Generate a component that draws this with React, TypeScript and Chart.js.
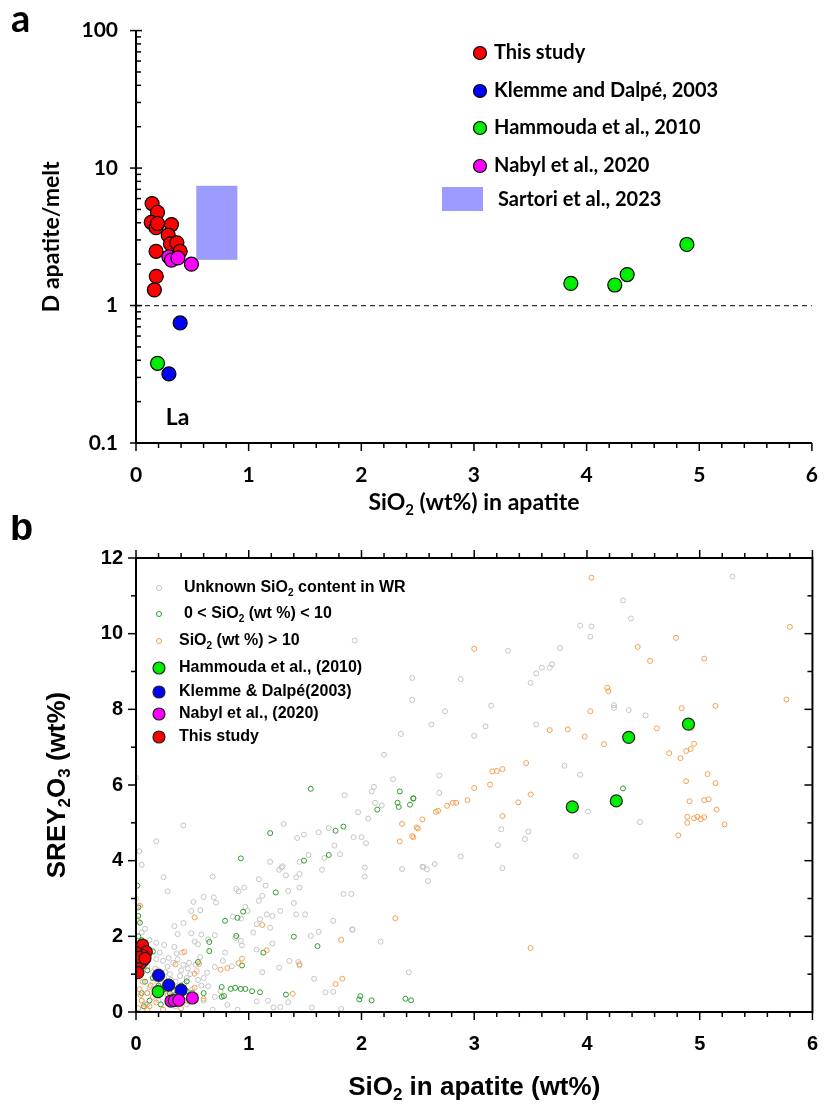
import React, { useEffect, useRef } from 'react';
import { Chart, registerables } from 'chart.js';
Chart.register(...registerables);

// ---------- Panel a ----------
const A_X_TICKS = [0, 1, 2, 3, 4, 5, 6];
const A_Y_TICKS = [0.1, 1, 10, 100];
const A_THIS_STUDY_X = [0.143, 0.191, 0.135, 0.178, 0.191, 0.315, 0.286, 0.306, 0.363, 0.392, 0.178, 0.18, 0.163];
const A_THIS_STUDY_Y = [5.52, 4.77, 4.03, 3.68, 3.95, 3.88, 3.25, 2.81, 2.86, 2.48, 2.48, 1.63, 1.3];
const A_KLEMME_X = [0.392, 0.292];
const A_KLEMME_Y = [0.747, 0.318];
const A_HAMMOUDA_X = [0.191, 3.86, 4.25, 4.36, 4.89];
const A_HAMMOUDA_Y = [0.38, 1.45, 1.41, 1.68, 2.78];
const A_NABYL_X = [0.292, 0.315, 0.372, 0.492];
const A_NABYL_Y = [2.26, 2.14, 2.22, 2.0];
const A_SARTORI_X = [0.535, 0.9];
const A_SARTORI_Y = [2.15, 7.43];
const A_UNITY_X = [0, 6];
const A_UNITY_Y = [1, 1];
const A_LEGEND = ['This study', 'Klemme and Dalpé, 2003', 'Hammouda et al., 2010', 'Nabyl et al., 2020', 'Sartori et al., 2023'];

// ---------- Panel b ----------
const B_X_TICKS = [0, 1, 2, 3, 4, 5, 6];
const B_Y_TICKS = [0, 2, 4, 6, 8, 10, 12];
const B_UNKNOWN_WR = [
  [5.29, 11.51], [4.32, 10.88], [4.39, 10.4], [3.94, 10.21], [4.04, 10.19], [4.03, 9.92], [3.76, 9.62], [3.69, 9.19], [3.67, 9.1], [4.24, 8.11], [4.24, 8.04], [4.37, 7.98], [4.52, 7.84], [3.8, 6.51], [3.94, 6.27], [4.01, 5.3], [4.47, 5.02],
  [2.69, 6.25], [2.69, 5.79], [3.24, 4.83], [3.21, 4.41], [3.48, 4.77], [3.45, 4.57], [2.88, 4.11], [3.9, 4.12], [2.55, 3.83], [2.58, 3.77], [2.65, 3.91], [2.59, 3.46], [3.25, 3.8],
  [1.94, 9.82], [2.45, 8.83], [2.45, 8.25],
  [2.62, 7.6], [2.74, 7.95], [2.88, 8.8], [3.0, 7.3], [3.15, 8.1], [3.3, 9.55], [3.5, 8.7], [3.55, 8.95], [3.6, 9.1], [2.35, 7.35], [2.2, 6.8], [3.55, 7.6], [3.1, 7.55], [0.0, 6.2],
  [0.42, 4.93], [0.18, 4.51], [0.03, 4.25], [0.05, 3.89], [0.245, 3.56], [0.28, 3.19], [0.68, 3.58], [0.6, 3.04], [0.69, 3.03], [0.71, 2.89], [0.51, 2.91], [0.57, 2.69], [0.49, 2.67], [0.34, 2.27], [0.42, 2.35], [0.37, 2.06], [0.49, 2.08], [0.58, 2.05], [0.7, 2.03], [0.64, 1.92], [0.52, 1.86], [0.55, 1.79], [0.34, 1.72], [0.41, 1.57], [0.25, 1.77], [0.18, 1.83], [0.21, 1.57], [0.29, 1.43], [0.24, 1.35], [0.37, 1.39], [0.47, 1.3], [0.54, 1.08], [0.63, 1.04], [0.7, 1.19], [0.79, 1.57], [0.77, 1.35], [0.85, 1.21], [0.64, 0.68], [0.75, 0.55], [0.81, 0.19], [0.9, 0.06], [0.68, 0.06], [1.07, 0.28], [1.17, 0.3], [1.22, 0.12], [1.28, 0.13], [1.35, 0.26], [1.56, 0.12], [1.82, 0.08], [1.68, 0.52], [1.75, 0.53], [1.58, 0.88], [1.12, 1.05], [1.07, 1.65], [1.21, 1.81], [1.27, 1.17], [1.36, 1.35], [1.44, 1.32], [1.45, 1.23], [1.55, 2.01], [1.62, 2.12], [1.92, 2.19], [2.17, 1.86], [2.42, 1.05], [2.54, 3.84],
  [0.89, 3.25], [0.91, 3.19], [0.96, 3.29], [0.97, 2.78], [0.99, 2.67], [0.93, 2.47], [0.86, 2.52], [0.88, 1.96], [0.93, 1.88], [0.94, 1.76], [1.04, 2.1], [1.1, 2.45], [1.09, 2.94], [1.12, 3.07], [1.16, 2.58], [1.19, 2.23], [1.09, 3.51], [1.15, 3.34], [1.27, 3.76], [1.29, 3.82], [1.3, 3.85], [1.33, 3.61], [1.35, 3.2], [1.42, 3.56], [1.45, 3.65], [1.45, 3.29], [1.42, 2.58], [1.5, 2.58], [1.28, 2.67], [1.21, 2.54], [1.07, 2.32],
  [1.19, 3.97], [1.45, 3.97], [1.53, 4.15], [1.43, 4.6], [1.49, 4.69], [1.31, 4.97], [1.62, 4.75], [1.71, 4.86], [1.85, 5.73], [1.97, 5.28], [2.06, 5.11], [1.93, 4.62], [2.0, 4.62], [2.04, 4.46], [1.76, 4.4], [1.67, 4.07], [1.81, 4.17], [1.65, 3.76], [2.03, 3.82], [2.03, 3.58], [1.84, 3.12], [1.91, 3.12], [2.11, 5.95], [2.09, 5.83], [2.12, 5.53], [2.18, 5.46], [2.36, 3.78], [2.28, 6.15], [1.75, 2.41], [1.92, 2.17], [1.4, 2.88],
  [0.05, 0.3], [0.1, 0.5], [0.15, 0.8], [0.2, 1.1], [0.25, 0.9], [0.3, 1.0], [0.35, 0.8], [0.4, 1.1], [0.45, 0.9], [0.5, 0.6], [0.1, 1.2], [0.05, 2.1], [0.02, 2.4], [0.08, 2.2], [0.12, 1.9], [0.18, 1.4], [0.28, 1.2], [0.33, 1.3], [0.42, 1.25], [0.48, 1.0], [0.55, 0.85], [0.58, 0.7], [0.6, 0.9], [0.0, 3.0], [0.02, 2.8], [0.05, 1.9], [0.1, 0.2], [0.2, 0.3], [0.35, 0.15], [0.45, 0.2], [0.6, 0.3], [0.7, 0.4],
  [0.15, 1.05], [0.22, 0.75], [0.27, 0.6], [0.32, 0.55], [0.38, 0.62], [0.43, 0.75], [0.12, 0.65], [0.08, 1.55], [0.17, 1.15], [0.26, 1.05], [0.31, 0.85], [0.39, 0.95], [0.46, 1.15], [0.53, 1.25], [0.57, 1.45], [0.36, 1.55],
];
const B_SIO2_0_10 = [
  [1.55, 5.9], [2.34, 5.83], [2.32, 5.53], [2.33, 5.42], [2.43, 5.48], [2.46, 5.65], [2.14, 5.35], [1.84, 4.9], [1.77, 4.79], [1.71, 4.15], [1.49, 4.0], [1.19, 4.73], [0.93, 4.06], [1.24, 3.16], [0.95, 2.65], [0.9, 2.49], [0.79, 2.41], [0.89, 2.01], [0.65, 1.85], [0.65, 1.61], [0.55, 1.32], [1.4, 1.99], [1.61, 1.74], [1.13, 1.57], [0.94, 1.23], [0.76, 0.66], [0.84, 0.61], [0.88, 0.64], [0.93, 0.61], [0.97, 0.61], [1.03, 0.55], [1.1, 0.52], [0.76, 0.4], [0.78, 0.42], [0.6, 0.5], [1.33, 0.46], [1.99, 0.42], [1.98, 0.33], [2.09, 0.31], [2.39, 0.35], [2.44, 0.31], [0.45, 0.81], [0.012, 3.34], [0.02, 2.76], [0.02, 2.54], [0.035, 2.36],
  [0.02, 2.0], [0.05, 1.9], [0.1, 1.1], [0.15, 0.9], [0.2, 0.7], [0.25, 0.6], [0.3, 0.5], [0.35, 0.45], [0.12, 0.3], [0.05, 0.5], [0.08, 0.8], [0.18, 0.45], [0.28, 0.8], [0.4, 0.7], [0.45, 0.55], [0.5, 0.5], [0.03, 1.3], [0.07, 0.15], [0.22, 0.2], [0.15, 1.6],
  [4.32, 5.91], [2.46, 5.64],
];
const B_SIO2_GT_10 = [
  [4.04, 11.48], [5.8, 10.18], [4.79, 9.89], [4.45, 9.65], [4.56, 9.28], [5.04, 9.34], [4.18, 8.57], [4.19, 8.48], [4.03, 7.95], [4.84, 8.03], [5.14, 8.09], [5.77, 8.26], [4.62, 7.5], [3.83, 7.47], [3.67, 7.45], [3.98, 7.28], [4.15, 7.08], [4.73, 6.84], [4.83, 6.71], [4.88, 6.9], [4.92, 6.95], [4.95, 7.09], [4.93, 7.51], [5.07, 6.29], [5.14, 6.05], [4.88, 6.1], [4.91, 5.57], [5.04, 5.6], [5.08, 5.62], [5.15, 5.35], [4.89, 5.16], [4.95, 5.12], [4.98, 5.16], [5.01, 5.1], [5.04, 5.15], [4.89, 5.0], [5.22, 4.96],
  [3.46, 6.58], [3.16, 6.36], [3.2, 6.37], [3.25, 6.42], [3.14, 6.01], [3.0, 5.92], [3.5, 5.75], [3.39, 5.54], [2.94, 5.6], [2.84, 5.53], [2.81, 5.53], [2.76, 5.45], [2.68, 5.32], [2.66, 5.29], [2.54, 5.09], [2.5, 4.85], [2.46, 4.62], [3.25, 5.18], [3.5, 1.69], [4.81, 4.67], [3.0, 9.6],
  [2.36, 4.97], [2.49, 4.88], [2.34, 4.51], [2.45, 4.65], [2.3, 2.48], [1.82, 1.91], [1.83, 0.88], [1.77, 0.74], [1.45, 1.26], [1.39, 0.48], [1.16, 1.63], [1.12, 2.3], [0.94, 1.41], [0.91, 1.29], [0.81, 1.16], [0.75, 1.12], [0.56, 1.27], [0.52, 1.01], [0.52, 2.5], [0.43, 1.59], [0.35, 1.26], [0.6, 0.35], [0.52, 0.64], [0.24, 0.06], [0.035, 2.81], [0.006, 2.45],
  [0.02, 0.1], [0.05, 0.3], [0.08, 0.2], [0.1, 0.5], [0.03, 0.6], [0.12, 0.15], [0.15, 0.4], [0.06, 0.8], [0.02, 1.0], [0.1, 0.05], [0.18, 0.25], [0.22, 0.5], [0.04, 0.45], [0.07, 1.2], [0.13, 0.7], [0.3, 0.2], [0.4, 0.1], [0.28, 0.45], [0.45, 0.3],
];
const B_HAMMOUDA = [[0.196, 0.54], [3.87, 5.42], [4.26, 5.58], [4.37, 7.26], [4.9, 7.61]];
const B_KLEMME = [[0.2, 0.97], [0.29, 0.71], [0.4, 0.58]];
const B_NABYL = [[0.31, 0.29], [0.34, 0.3], [0.38, 0.31], [0.5, 0.37]];
const B_THIS_STUDY = [[0.058, 1.77], [0.092, 1.59], [0.058, 1.5], [0.063, 1.36], [0.035, 1.27], [0.012, 1.32], [0.017, 1.04], [0.0, 1.57], [0.03, 1.45], [0.08, 1.42]];

const RED = '#ff0000';
const BLUE = '#0000ff';
const GREEN = '#00ee00';
const MAGENTA = '#ff00ff';
const PERIWINKLE = '#9c9cff';
const GREY_HOLLOW = '#c4c4c4';
const GREEN_HOLLOW = '#2f9a2f';
const ORANGE_HOLLOW = '#f5a04f';

const FA = 'Lato';
const FB = '"Liberation Sans", Arial';

type Part = { t: string; sub?: boolean };

function drawParts(ctx: CanvasRenderingContext2D, parts: Part[], x: number, y: number, size: number, family: string, align: 'left' | 'center') {
  const mainF = `bold ${size}px ${family}`;
  const subF = `bold ${Math.round(size * 0.65)}px ${family}`;
  ctx.textBaseline = 'middle';
  ctx.textAlign = 'left';
  const widths = parts.map((p) => {
    ctx.font = p.sub ? subF : mainF;
    return ctx.measureText(p.t).width;
  });
  const total = widths.reduce((a, b) => a + b, 0);
  let cx = align === 'center' ? x - total / 2 : x;
  parts.forEach((p, i) => {
    ctx.font = p.sub ? subF : mainF;
    ctx.fillText(p.t, cx, p.sub ? y + size * 0.3 : y);
    cx += widths[i];
  });
}

function circle(ctx: CanvasRenderingContext2D, x: number, y: number, r: number, fill: string | null, stroke: string, lw: number) {
  ctx.beginPath();
  ctx.arc(x, y, r, 0, Math.PI * 2);
  if (fill) {
    ctx.fillStyle = fill;
    ctx.fill();
  }
  ctx.lineWidth = lw;
  ctx.strokeStyle = stroke;
  ctx.stroke();
}

function pts(xs: number[], ys: number[]) {
  return xs.map((x, i) => ({ x, y: ys[i] }));
}
function pairs(arr: number[][]) {
  return arr.map((p) => ({ x: p[0], y: p[1] }));
}

function line(ctx: CanvasRenderingContext2D, x1: number, y1: number, x2: number, y2: number) {
  ctx.beginPath();
  ctx.moveTo(x1, y1);
  ctx.lineTo(x2, y2);
  ctx.stroke();
}

function minorSteps(max: number, step: number) {
  const out: number[] = [];
  for (let i = 0; i * step <= max + 1e-9; i++) out.push(+(i * step).toFixed(4));
  return out;
}

const plotA = {
  id: 'plotA',
  beforeDatasetsDraw(chart: any) {
    const { ctx, chartArea: ca, scales } = chart;
    const xs = scales.x, ys = scales.y;
    ctx.save();
    // Sartori box
    const x1 = xs.getPixelForValue(A_SARTORI_X[0]);
    const x2 = xs.getPixelForValue(A_SARTORI_X[1]);
    const y1 = ys.getPixelForValue(A_SARTORI_Y[1]);
    const y2 = ys.getPixelForValue(A_SARTORI_Y[0]);
    ctx.fillStyle = PERIWINKLE;
    ctx.fillRect(x1, y1, x2 - x1, y2 - y1);
    ctx.restore();
  },
  afterDraw(chart: any) {
    const { ctx, chartArea: ca, scales } = chart;
    const xs = scales.x, ys = scales.y;
    ctx.save();
    ctx.strokeStyle = '#000';
    ctx.lineWidth = 2;
    line(ctx, ca.left, ca.top, ca.left, ca.bottom + 1);
    line(ctx, ca.left - 1, ca.bottom, ca.right, ca.bottom);
    ctx.lineWidth = 1.5;
    A_Y_TICKS.forEach((v) => {
      const p = ys.getPixelForValue(v);
      line(ctx, ca.left - 6, p, ca.left + 6, p);
    });
    [0.1, 1, 10].forEach((d) => {
      for (let m = 2; m <= 9; m++) {
        const p = ys.getPixelForValue(m * d);
        line(ctx, ca.left, p, ca.left + 5, p);
      }
    });
    minorSteps(6, 0.2).forEach((v) => {
      const p = xs.getPixelForValue(v);
      const major = Math.abs(v - Math.round(v)) < 1e-6;
      line(ctx, p, ca.bottom, p, ca.bottom + (major ? 8 : 5));
    });
    // titles
    ctx.fillStyle = '#000';
    drawParts(ctx, [{ t: 'SiO' }, { t: '2', sub: true }, { t: ' (wt%) in apatite' }], (ca.left + ca.right) / 2, 503, 23, FA, 'center');
    ctx.save();
    ctx.translate(52, (ca.top + ca.bottom) / 2);
    ctx.rotate(-Math.PI / 2);
    drawParts(ctx, [{ t: 'D apatite/melt' }], 0, 0, 23, FA, 'center');
    ctx.restore();
    drawParts(ctx, [{ t: 'a' }], 11, 20, 38, FA, 'left');
    // La label
    drawParts(ctx, [{ t: 'La' }], xs.getPixelForValue(0.37), ys.getPixelForValue(0.152), 23, FA, 'center');
    // legend
    const lx = 480;
    const rows = [53, 91, 128, 166];
    const cols = [RED, BLUE, GREEN, MAGENTA];
    rows.forEach((ry, i) => {
      circle(ctx, lx, ry, 6.5, cols[i], '#000', 1.2);
      ctx.fillStyle = '#000';
      drawParts(ctx, [{ t: A_LEGEND[i] }], 494, ry, 20, FA, 'left');
    });
    ctx.fillStyle = PERIWINKLE;
    ctx.fillRect(442, 187, 41, 24);
    ctx.fillStyle = '#000';
    drawParts(ctx, [{ t: A_LEGEND[4] }], 498, 200, 20, FA, 'left');
    ctx.restore();
  },
};

const plotB = {
  id: 'plotB',
  afterDraw(chart: any) {
    const { ctx, chartArea: ca, scales } = chart;
    const xs = scales.x, ys = scales.y;
    ctx.save();
    ctx.strokeStyle = '#000';
    ctx.lineWidth = 2;
    ctx.strokeRect(ca.left, ca.top, ca.right - ca.left, ca.bottom - ca.top);
    ctx.lineWidth = 1.5;
    minorSteps(6, 0.2).forEach((v) => {
      const p = xs.getPixelForValue(v);
      const major = Math.abs(v - Math.round(v)) < 1e-6;
      const L = major ? 8 : 5;
      line(ctx, p, ca.bottom, p, ca.bottom + L);
      line(ctx, p, ca.top, p, ca.top - L);
    });
    minorSteps(12, 1).forEach((v) => {
      const p = ys.getPixelForValue(v);
      const major = v % 2 === 0;
      const L = major ? 8 : 5;
      line(ctx, ca.left - L, p, ca.left, p);
      line(ctx, ca.right - L, p, ca.right, p);
    });
    ctx.fillStyle = '#000';
    drawParts(ctx, [{ t: 'SiO' }, { t: '2', sub: true }, { t: ' in apatite (wt%)' }], (ca.left + ca.right) / 2, 573, 26, FB, 'center');
    ctx.save();
    ctx.translate(58, (ca.top + ca.bottom) / 2);
    ctx.rotate(-Math.PI / 2);
    drawParts(ctx, [{ t: 'SREY' }, { t: '2', sub: true }, { t: 'O' }, { t: '3', sub: true }, { t: ' (wt%)' }], 0, 0, 26, FB, 'center');
    ctx.restore();
    drawParts(ctx, [{ t: 'b' }], 10, 15, 38, FB, 'left');
    // legend
    const mx = 159;
    const items: { y: number; tx: number; parts: Part[]; kind: string; col: string }[] = [
      { y: 73, tx: 184, parts: [{ t: 'Unknown SiO' }, { t: '2', sub: true }, { t: ' content in WR' }], kind: 'h', col: GREY_HOLLOW },
      { y: 99, tx: 184, parts: [{ t: '0 < SiO' }, { t: '2', sub: true }, { t: ' (wt %) < 10' }], kind: 'h', col: GREEN_HOLLOW },
      { y: 126, tx: 179, parts: [{ t: 'SiO' }, { t: '2', sub: true }, { t: ' (wt %) > 10' }], kind: 'h', col: ORANGE_HOLLOW },
      { y: 153, tx: 179, parts: [{ t: 'Hammouda et al., (2010)' }], kind: 'f', col: GREEN },
      { y: 177, tx: 179, parts: [{ t: 'Klemme & Dalpé(2003)' }], kind: 'f', col: BLUE },
      { y: 199, tx: 179, parts: [{ t: 'Nabyl et al., (2020)' }], kind: 'f', col: MAGENTA },
      { y: 222, tx: 179, parts: [{ t: 'This study' }], kind: 'f', col: RED },
    ];
    items.forEach((it) => {
      if (it.kind === 'h') circle(ctx, mx, it.y, 2.5, null, it.col, 1);
      else circle(ctx, mx, it.y, 6, it.col, '#222', 1.2);
      ctx.fillStyle = '#000';
      drawParts(ctx, it.parts, it.tx, it.y, 16, FB, 'left');
    });
    ctx.restore();
  },
};

function makeA(canvas: HTMLCanvasElement) {
  const big = (label: string, data: any[], col: string) => ({
    type: 'scatter' as const,
    label,
    data,
    pointRadius: 7,
    pointBackgroundColor: col,
    pointBorderColor: '#000',
    pointBorderWidth: 1.2,
    showLine: false,
  });
  return new Chart(canvas, {
    type: 'scatter',
    data: {
      datasets: [
        big('Nabyl et al., 2020', pts(A_NABYL_X, A_NABYL_Y), MAGENTA),
        big('This study', pts(A_THIS_STUDY_X, A_THIS_STUDY_Y), RED),
        big('Hammouda et al., 2010', pts(A_HAMMOUDA_X, A_HAMMOUDA_Y), GREEN),
        big('Klemme and Dalpé, 2003', pts(A_KLEMME_X, A_KLEMME_Y), BLUE),
        {
          type: 'line' as const,
          label: 'D = 1',
          data: pts(A_UNITY_X, A_UNITY_Y),
          borderColor: '#333',
          borderWidth: 1.2,
          borderDash: [5, 4],
          pointRadius: 0,
          showLine: true,
        } as any,
      ],
    },
    options: {
      responsive: false,
      animation: false,
      devicePixelRatio: 1,
      layout: { padding: { top: 17, right: 7, left: 0, bottom: 0 } },
      plugins: { legend: { display: false }, tooltip: { enabled: false } },
      scales: {
        x: {
          type: 'linear',
          min: 0,
          max: 6,
          afterBuildTicks: (s: any) => { s.ticks = A_X_TICKS.map((v) => ({ value: v })); },
          afterFit: (s: any) => { s.height = 515 - 443; },
          ticks: { color: '#000', padding: 20, font: { family: FA, weight: 'bold', size: 21 } },
          grid: { display: false, drawTicks: false },
          border: { display: false },
        },
        y: {
          type: 'logarithmic',
          min: 0.1,
          max: 100,
          afterBuildTicks: (s: any) => { s.ticks = A_Y_TICKS.map((v) => ({ value: v })); },
          afterFit: (s: any) => { s.width = 136; },
          ticks: { color: '#000', padding: 18, font: { family: FA, weight: 'bold', size: 21 }, callback: (v: any) => String(v) },
          grid: { display: false, drawTicks: false },
          border: { display: false },
        },
      },
    } as any,
    plugins: [plotA],
  });
}

function makeB(canvas: HTMLCanvasElement) {
  const big = (label: string, data: any[], col: string) => ({
    label,
    data,
    pointRadius: 6,
    pointBackgroundColor: col,
    pointBorderColor: '#222',
    pointBorderWidth: 1.2,
  });
  const hollow = (label: string, data: any[], col: string) => ({
    label,
    data,
    pointRadius: 2.5,
    pointBackgroundColor: 'rgba(0,0,0,0)',
    pointBorderColor: col,
    pointBorderWidth: 1,
  });
  return new Chart(canvas, {
    type: 'scatter',
    data: {
      datasets: [
        big('This study', pairs(B_THIS_STUDY), RED),
        big('Nabyl et al., (2020)', pairs(B_NABYL), MAGENTA),
        big('Klemme & Dalpé(2003)', pairs(B_KLEMME), BLUE),
        big('Hammouda et al., (2010)', pairs(B_HAMMOUDA), GREEN),
        hollow('SiO2 (wt %) > 10', pairs(B_SIO2_GT_10), ORANGE_HOLLOW),
        hollow('0 < SiO2 (wt %) < 10', pairs(B_SIO2_0_10), GREEN_HOLLOW),
        hollow('Unknown SiO2 content in WR', pairs(B_UNKNOWN_WR), GREY_HOLLOW),
      ],
    },
    options: {
      responsive: false,
      animation: false,
      devicePixelRatio: 1,
      layout: { padding: { top: 43, right: 7, left: 0, bottom: 0 } },
      plugins: { legend: { display: false }, tooltip: { enabled: false } },
      scales: {
        x: {
          type: 'linear',
          min: 0,
          max: 6,
          afterBuildTicks: (s: any) => { s.ticks = B_X_TICKS.map((v) => ({ value: v })); },
          afterFit: (s: any) => { s.height = 591 - 497; },
          ticks: { color: '#000', padding: 20, font: { family: FB, weight: 'bold', size: 20 } },
          grid: { display: false, drawTicks: false },
          border: { display: false },
        },
        y: {
          type: 'linear',
          min: 0,
          max: 12,
          afterBuildTicks: (s: any) => { s.ticks = B_Y_TICKS.map((v) => ({ value: v })); },
          afterFit: (s: any) => { s.width = 136; },
          ticks: { color: '#000', padding: 13, font: { family: FB, weight: 'bold', size: 20 } },
          grid: { display: false, drawTicks: false },
          border: { display: false },
        },
      },
    } as any,
    plugins: [plotB],
  });
}

export default function App() {
  const refA = useRef<HTMLCanvasElement>(null);
  const refB = useRef<HTMLCanvasElement>(null);
  useEffect(() => {
    document.body.style.margin = '0';
    const a = makeA(refA.current!);
    const b = makeB(refB.current!);
    return () => {
      a.destroy();
      b.destroy();
    };
  }, []);
  return (
    <div style={{ width: 838, height: 1106, background: '#fff' }}>
      <canvas ref={refA} width={838} height={515} style={{ display: 'block' }} />
      <canvas ref={refB} width={838} height={591} style={{ display: 'block' }} />
    </div>
  );
}
